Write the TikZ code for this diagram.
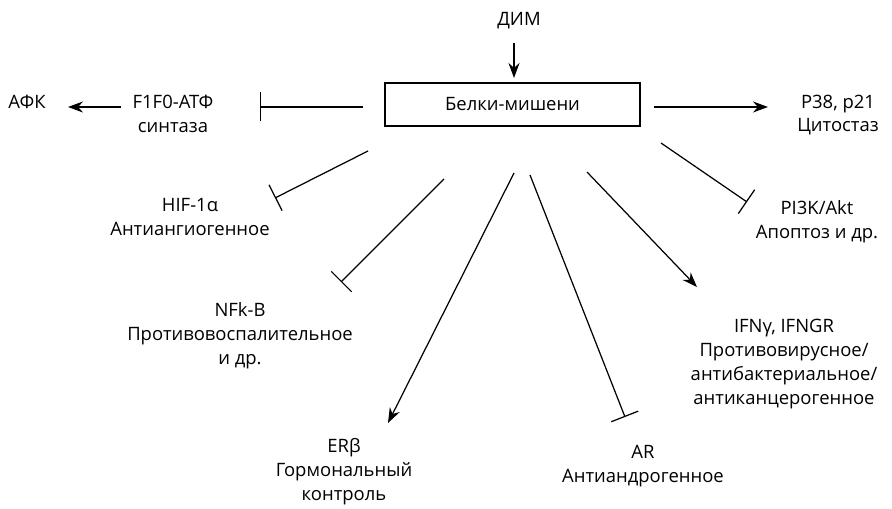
\documentclass[tikz,border=0pt]{standalone}
\usepackage{fontspec}
\setmainfont{Open Sans}
\usetikzlibrary{arrows.meta}

\begin{document}
\begin{tikzpicture}[x=0.02cm,y=-0.02cm,
        >={Stealth[length=0.3cm,width=0.22cm]},
        every node/.style={font=\fontsize{10.5}{13.6}\selectfont,align=center,inner sep=0pt},
        every path/.style={line width=0.7pt},
        inh/.style={-{Bar[width=0.58cm,line width=0.7pt]}}]
        \useasboundingbox (0,0) rectangle (892,509);

        \node (dim) at (519,21) {ДИМ};
        \node[draw,minimum width=5.1cm,minimum height=0.86cm] (box) at (512.5,104.5) {Белки-мишени};
        \node (afk) at (27,102) {АФК};
        \node (atp) at (173,114) {F1F0-АТФ\\синтаза};
        \node (p38) at (838,115) {P38, p21\\Цитостаз};
        \node (hif) at (190,217) {HIF-1α\\Антиангиогенное};
        \node (nfk) at (240,336) {NFk-B\\Противовоспалительное\\и др.};
        \node (erb) at (344,472) {ERβ\\Гормональный\\контроль};
        \node (ar) at (643,466) {AR\\Антиандрогенное};
        \node (ifn) at (784,364) {IFNγ, IFNGR\\Противовирусное/\\антибактериальное/\\антиканцерогенное};
        \node (pi3k) at (817,222) {PI3K/Akt\\Апоптоз и др.};

        % free ends of the connectors
        \coordinate (dim-a) at (514,43);
        \coordinate (dim-b) at (514,78);
        \coordinate (atp-a) at (363,107);
        \coordinate (atp-b) at (260,107);
        \coordinate (afk-a) at (121,107);
        \coordinate (afk-b) at (68,107);
        \coordinate (p38-a) at (654,107);
        \coordinate (p38-b) at (768,107);
        \coordinate (hif-a) at (368,151);
        \coordinate (hif-b) at (275,198);
        \coordinate (nfk-a) at (444,179);
        \coordinate (nfk-b) at (341,282);
        \coordinate (erb-a) at (514,173);
        \coordinate (erb-b) at (388,423);
        \coordinate (ar-a) at (530,175);
        \coordinate (ar-b) at (625,417);
        \coordinate (ifn-a) at (587,172);
        \coordinate (ifn-b) at (697,287);
        \coordinate (pi3k-a) at (661,143);
        \coordinate (pi3k-b) at (747,202);

        \draw[->] (dim-a) -- (dim-b);
        \draw[inh] (atp-a) -- (atp-b);
        \draw[->] (afk-a) -- (afk-b);
        \draw[->] (p38-a) -- (p38-b);
        \draw[inh] (hif-a) -- (hif-b);
        \draw[inh] (nfk-a) -- (nfk-b);
        \draw[->] (erb-a) -- (erb-b);
        \draw[inh] (ar-a) -- (ar-b);
        \draw[->] (ifn-a) -- (ifn-b);
        \draw[inh] (pi3k-a) -- (pi3k-b);
    \end{tikzpicture}
\end{document}
